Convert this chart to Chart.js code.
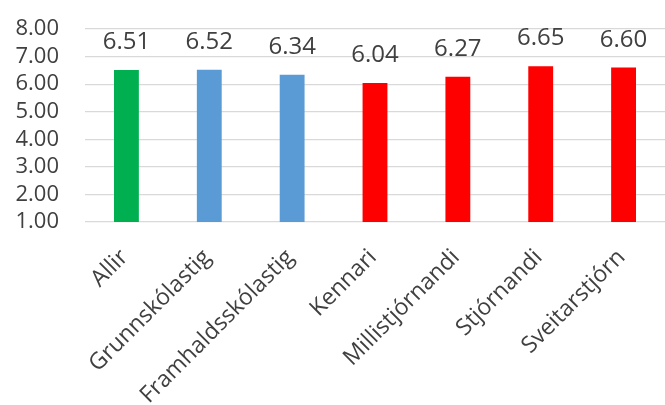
<!DOCTYPE html>
<html>
<head>
<meta charset="utf-8">
<script src="https://cdn.jsdelivr.net/npm/chart.js@4/dist/chart.umd.min.js"></script>
<style>
  html, body { margin: 0; padding: 0; background: #fff; }
  #wrap { width: 665px; height: 405px; }
</style>
</head>
<body>
<div id="wrap"><canvas id="chart" width="665" height="405"></canvas></div>
<script>
const categories = ['Allir', 'Grunnskólastig', 'Framhaldsskólastig', 'Kennari', 'Millistjórnandi', 'Stjórnandi', 'Sveitarstjórn'];
const scores = [6.51, 6.52, 6.34, 6.04, 6.27, 6.65, 6.60];
const barColors = ['#00b050', '#5b9bd5', '#5b9bd5', '#ff0000', '#ff0000', '#ff0000', '#ff0000'];
const yMin = 1;
const yMax = 8;

const textColor = '#404040';
const fontFamily = '"Open Sans", "Liberation Sans", sans-serif';

// values above bars, no datalabels plugin offline
const valueLabels = {
  id: 'valueLabels',
  afterDatasetsDraw(chart) {
    const ctx = chart.ctx;
    const meta = chart.getDatasetMeta(0);
    ctx.save();
    ctx.font = '24px ' + fontFamily;
    ctx.fillStyle = textColor;
    ctx.textAlign = 'center';
    ctx.textBaseline = 'alphabetic';
    meta.data.forEach((bar, i) => {
      ctx.fillText(scores[i].toFixed(2), bar.x, bar.y - 21);
    });
    ctx.restore();
  }
};

new Chart(document.getElementById('chart'), {
  type: 'bar',
  data: {
    labels: categories,
    datasets: [{
      data: scores,
      backgroundColor: barColors,
      borderWidth: 0,
      barPercentage: 0.6,
      categoryPercentage: 0.5
    }]
  },
  options: {
    responsive: false,
    animation: false,
    layout: { padding: { left: 0, top: 29, right: 0, bottom: 0 } },
    plugins: { legend: { display: false }, tooltip: { enabled: false } },
    scales: {
      x: {
        grid: { display: false },
        border: { display: false },
        afterFit: scale => {
          scale.height = 183;
          scale.paddingLeft = 0;
          scale.paddingRight = 0;
        },
        ticks: {
          color: textColor,
          font: { family: fontFamily, size: 23 },
          minRotation: 45,
          maxRotation: 45,
          labelOffset: -2,
          padding: 14
        }
      },
      y: {
        min: yMin,
        max: yMax,
        grid: { color: '#d9d9d9', lineWidth: 1.2, drawTicks: false },
        border: { display: false },
        afterFit: scale => {
          scale.width = 85;
          scale.paddingTop = 0;
          scale.paddingBottom = 0;
        },
        ticks: {
          stepSize: 1,
          autoSkip: false,
          color: textColor,
          padding: 26,
          font: { family: fontFamily, size: 22 },
          callback: v => Number(v).toFixed(2)
        }
      }
    }
  },
  plugins: [valueLabels]
});
</script>
</body>
</html>
